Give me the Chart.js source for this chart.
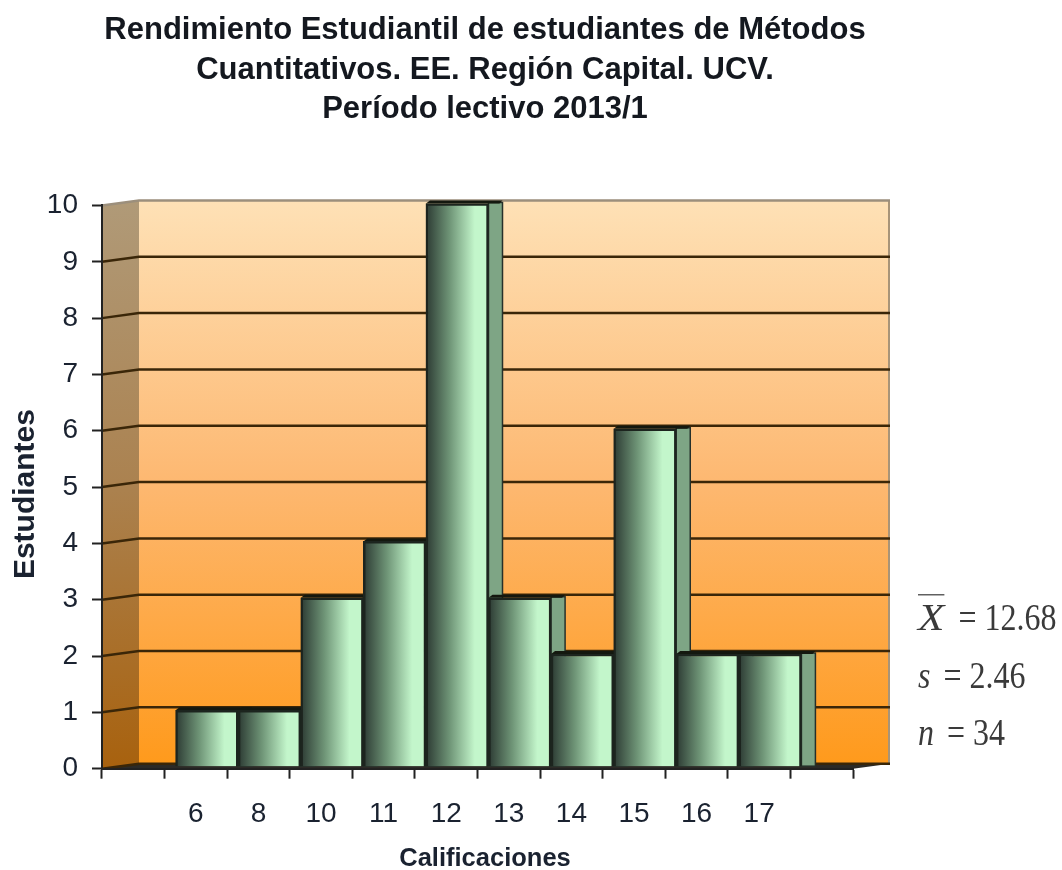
<!DOCTYPE html>
<html>
<head>
<meta charset="utf-8">
<title>Rendimiento Estudiantil</title>
<script src="https://cdn.jsdelivr.net/npm/chart.js@4"></script>
<style>
  html, body { margin: 0; padding: 0; background: #fff; }
  #wrap { position: relative; width: 1062px; height: 870px; overflow: hidden; }
  #myChart { position: absolute; left: 0; top: 0; }
  .stat { position: absolute; left: 918px; font: 32px "Liberation Serif", serif; color: #3a3a3a;
          white-space: nowrap; transform: scaleY(1.2); transform-origin: left center; line-height: 36px; }
  .stat i { display: inline-block; margin-right: 13px; }
  .stat i.bar { text-decoration: overline; text-decoration-thickness: 1px; transform: scaleX(1.35); transform-origin: left center; margin-right: 21px; }
</style>
</head>
<body>
<div id="wrap">
  <canvas id="myChart" width="970" height="870"></canvas>
</div>
<script>
// datos
const categories = ["", "6", "8", "10", "11", "12", "13", "14", "15", "16", "17", ""];
const estudiantes = [null, 1, 1, 3, 4, 10, 3, 2, 6, 2, 2, null];
const yTicks = [0, 1, 2, 3, 4, 5, 6, 7, 8, 9, 10];
const titleLines = [
    "Rendimiento Estudiantil de estudiantes de Métodos",
    "Cuantitativos. EE. Región Capital. UCV.",
    "Período lectivo 2013/1"
];
const statNames = ["X", "s", "n"];
const statValues = ["12.68", "2.46", "34"];

// estadisticos a la derecha
const statTops = [599, 657, 714];
statNames.forEach((name, i) => {
    const d = document.createElement("div");
    d.className = "stat";
    d.style.top = statTops[i] + "px";
    const em = document.createElement("i");
    em.textContent = name;
    if (i == 0) em.className = "bar";
    d.appendChild(em);
    d.appendChild(document.createTextNode("= " + statValues[i]));
    document.getElementById("wrap").appendChild(d);
});

const wallDx = 37, wallDy = -5;   // fondo del grafico 3D
const barDx = 11, barDy = -2;     // corrimiento de las barras
const sideW = 14, topRise = 3;

// paredes, piso y lineas de fondo
const wall3d = {
    id: "wall3d",
    beforeDraw(chart) {
        const c = chart.ctx, a = chart.chartArea, y = chart.scales.y;
        const top = a.top + wallDy, bot = a.bottom + wallDy;

        let g = c.createLinearGradient(0, top, 0, bot);
        g.addColorStop(0, "#fee1b6");
        g.addColorStop(0.5, "#fdb871");
        g.addColorStop(1, "#ff9a1c");
        c.fillStyle = g;
        c.fillRect(a.left + wallDx, top, a.width - 2, bot - top);

        g = c.createLinearGradient(0, top, 0, bot);
        g.addColorStop(0, "#b09a78");
        g.addColorStop(0.5, "#ab8250");
        g.addColorStop(1, "#a8620f");
        c.fillStyle = g;
        c.beginPath();
        c.moveTo(a.left, a.top);
        c.lineTo(a.left + wallDx, top);
        c.lineTo(a.left + wallDx, bot);
        c.lineTo(a.left, a.bottom);
        c.closePath();
        c.fill();

        // borde derecho
        c.fillStyle = "#a89478";
        c.fillRect(a.left + wallDx + a.width - 2, top, 2, bot - top);

        // piso
        c.fillStyle = "#2c2a26";
        c.beginPath();
        c.moveTo(a.left, a.bottom);
        c.lineTo(a.left + wallDx, bot);
        c.lineTo(a.left + wallDx + a.width, bot);
        c.lineTo(a.right, a.bottom);
        c.closePath();
        c.fill();

        yTicks.forEach(v => {
            const py = y.getPixelForValue(v);
            c.strokeStyle = v == 10 ? "#9c8f7c" : "#3a2608";
            c.lineWidth = 2.5;
            c.beginPath();
            c.moveTo(a.left, py);
            c.lineTo(a.left + wallDx, py + wallDy);
            c.lineTo(a.left + wallDx + a.width, py + wallDy);
            c.stroke();
        });
    },
    beforeDatasetsDraw(chart) {
        const c = chart.ctx;
        c.save();
        c.translate(barDx, barDy);
        // cara lateral y cara superior de cada barra
        chart.getDatasetMeta(0).data.forEach((bar, i) => {
            if (estudiantes[i] == null) return;
            const l = bar.x - bar.width / 2, r = bar.x + bar.width / 2;
            c.fillStyle = "#7ea585";
            c.fillRect(r, bar.y - 1, sideW, bar.base - bar.y + 1);
            c.strokeStyle = "#26302a";
            c.lineWidth = 1.5;
            c.strokeRect(r, bar.y - 1, sideW, bar.base - bar.y + 1);
            c.fillStyle = "#14180f";
            c.beginPath();
            c.moveTo(l + 4, bar.y - topRise);
            c.lineTo(r + sideW, bar.y - topRise);
            c.lineTo(r + sideW - 3, bar.y);
            c.lineTo(l, bar.y);
            c.closePath();
            c.fill();
        });
    },
    afterDatasetsDraw(chart) {
        chart.ctx.restore();
    },
    afterDraw(chart) {
        // titulo del eje y, un poco mas abajo del centro
        const c = chart.ctx, a = chart.chartArea;
        c.save();
        c.translate(26, (a.top + a.bottom) / 2 + 7);
        c.rotate(-Math.PI / 2);
        c.font = "bold 30px 'Liberation Sans'";
        c.fillStyle = "#1a2230";
        c.textAlign = "center";
        c.textBaseline = "middle";
        c.fillText("Estudiantes", 0, 0);
        c.restore();
    }
};

function barGradient(context) {
    const chart = context.chart, sx = chart.scales.x;
    if (!chart.chartArea || context.type != "data") return "#9cc8a2";
    const w = chart.chartArea.width / categories.length;
    const cx = sx.getPixelForValue(context.dataIndex);
    const g = chart.ctx.createLinearGradient(cx - w / 2, 0, cx + w / 2, 0);
    g.addColorStop(0, "#2c3a33");
    g.addColorStop(0.38, "#6f9577");
    g.addColorStop(0.78, "#c3f6cb");
    g.addColorStop(1, "#c3f6cb");
    return g;
}

var ctx = document.getElementById("myChart").getContext("2d");
var chart = new Chart(ctx, {
    type: "bar",
    data: {
        labels: categories,
        datasets: [{
            label: "Estudiantes",
            data: estudiantes,
            backgroundColor: barGradient,
            borderColor: "#1c241e",
            borderWidth: 2.5,
            categoryPercentage: 1,
            barPercentage: 1,
            clip: false
        }]
    },
    plugins: [wall3d],
    options: {
        responsive: false,
        animation: false,
        layout: { padding: 0 },
        plugins: {
            legend: { display: false },
            tooltip: { enabled: false },
            title: {
                display: true,
                text: titleLines,
                color: "#14181f",
                font: { family: "Liberation Sans", size: 31, weight: "bold", lineHeight: 1.274 },
                padding: { top: 11, bottom: 76 }
            },
            subtitle: {
                display: true,
                position: "bottom",
                text: "Calificaciones",
                color: "#1a2230",
                font: { family: "Liberation Sans", size: 25.5, weight: "bold", lineHeight: 1.15 },
                padding: { top: 4, bottom: -4 }
            }
        },
        scales: {
            x: {
                afterFit: s => { s.height = 72; },
                grid: { offset: true, drawOnChartArea: false, tickLength: 10, tickColor: "#222", tickWidth: 2 },
                border: { color: "#222", width: 2 },
                ticks: {
                    autoSkip: false, maxRotation: 0, padding: 19, color: "#1a2230",
                    font: { family: "Liberation Sans", size: 28 }
                }
            },
            y: {
                min: 0,
                max: 10,
                afterFit: s => { s.width = 102; },
                afterBuildTicks: s => { s.ticks = yTicks.map(v => ({ value: v })); },
                grid: { drawOnChartArea: false, tickLength: 10, tickColor: "#222", tickWidth: 2 },
                border: { color: "#222", width: 2 },
                ticks: {
                    padding: 14, color: "#1a2230",
                    font: { family: "Liberation Sans", size: 28 }
                }
            },
            // reserva el espacio de la derecha para que el titulo quede centrado
            spacer: {
                axis: "y",
                position: "right",
                afterFit: s => { s.width = 117; },
                grid: { display: false },
                border: { display: false },
                ticks: { display: false }
            }
        }
    }
});
</script>
</body>
</html>
